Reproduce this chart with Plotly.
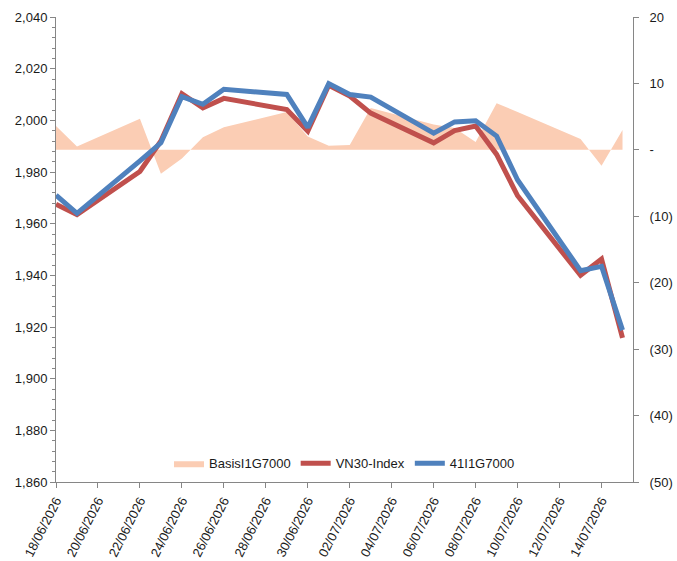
import plotly.graph_objects as go

dates = ["2026-06-18", "2026-06-19", "2026-06-22", "2026-06-23", "2026-06-24",
         "2026-06-25", "2026-06-26", "2026-06-29", "2026-06-30", "2026-07-01",
         "2026-07-02", "2026-07-03", "2026-07-06", "2026-07-07", "2026-07-08",
         "2026-07-09", "2026-07-10", "2026-07-13", "2026-07-14", "2026-07-15"]

vn30 = [1967.5, 1963.5, 1980.2, 1992.0, 2010.3, 2004.8, 2008.5, 2004.2, 1995.8, 2013.6,
        2009.4, 2002.8, 1991.3, 1996.0, 1997.8, 1986.8, 1970.8, 1940.0, 1946.3, 1915.8]

f41 = [1971.0, 1964.0, 1984.3, 1991.3, 2009.2, 2006.2, 2012.0, 2010.0, 1997.3, 2014.2,
       2010.0, 2009.0, 1995.0, 1999.4, 1999.8, 1993.9, 1976.9, 1941.8, 1943.5, 1918.8]

basis = [3.6, 0.5, 4.7, -3.6, -1.3, 1.9, 3.4, 5.7, 2.0, 0.6,
         0.75, 6.3, 3.8, 3.3, 1.2, 7.0, 5.7, 1.65, -2.4, 3.0]

right_vals = [20, 10, 0, -10, -20, -30, -40, -50]
right_text = ["20", "10", "-", "(10)", "(20)", "(30)", "(40)", "(50)"]

font_family = "Liberation Sans, Arial, sans-serif"
axis_color = "#868686"

fig = go.Figure()
# Basis area on the (bottom-layer) primary y axis, shown on the right side
fig.add_trace(go.Scatter(x=dates, y=basis, name="BasisI1G7000", yaxis="y",
                         mode="lines", fill="tozeroy", fillcolor="#FBCDB4",
                         line=dict(width=0, color="#FBCDB4")))
# Index lines on the overlaying axis, shown on the left side
fig.add_trace(go.Scatter(x=dates, y=vn30, name="VN30-Index", yaxis="y2", mode="lines",
                         line=dict(color="#C0504D", width=5)))
fig.add_trace(go.Scatter(x=dates, y=f41, name="41I1G7000", yaxis="y2", mode="lines",
                         line=dict(color="#4F81BD", width=5)))

fig.update_layout(
    width=677, height=561,
    margin=dict(l=56, r=44, t=17, b=79),
    paper_bgcolor="white", plot_bgcolor="white",
    font=dict(family=font_family, size=13, color="#1a1a1a"),
    showlegend=True,
    legend=dict(orientation="h", x=0.5, xanchor="center", y=0.04, yanchor="middle",
                bgcolor="rgba(0,0,0,0)", font=dict(size=13), itemwidth=30,
                traceorder="normal"),
    xaxis=dict(type="date", range=["2026-06-18", "2026-07-15 12:00"],
               tick0="2026-06-18", dtick=2 * 86400000, tickformat="%d/%m/%Y",
               tickangle=-63, showgrid=False, showline=True, linecolor=axis_color,
               linewidth=1, ticks="outside", ticklen=5, tickcolor=axis_color,
               zeroline=False, automargin=False),
    yaxis2=dict(range=[1860, 2040], dtick=20, tickformat=",", showgrid=False,
                overlaying="y", side="left",
                showline=True, linecolor=axis_color, linewidth=1, ticks="outside",
                ticklen=5, tickcolor=axis_color, zeroline=False, automargin=False,
                minor=dict(dtick=4, ticks="outside", ticklen=3, tickcolor=axis_color)),
    yaxis=dict(range=[-50, 20], side="right", tickvals=right_vals,
               ticktext=right_text, showgrid=False, showline=True,
               linecolor=axis_color, linewidth=1, ticks="outside", ticklen=5,
               tickcolor=axis_color, zeroline=False, ticklabelstandoff=8,
               automargin=False),
)

fig.write_html("out.html")
